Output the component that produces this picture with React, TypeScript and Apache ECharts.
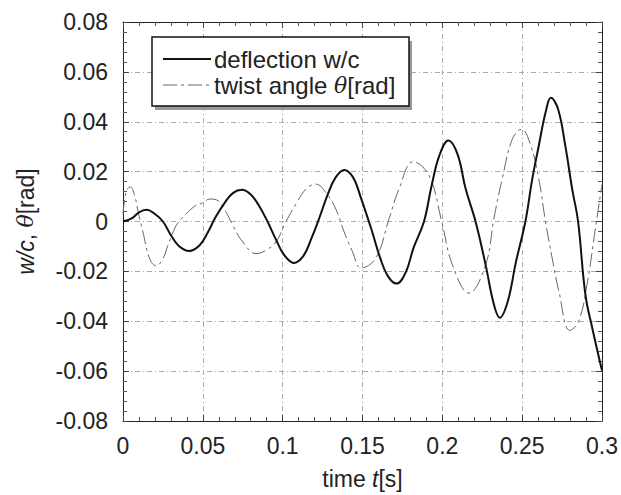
import React, { useEffect, useRef } from "react";
import * as echarts from "echarts";

// time [s] and values
const deflectionT = [0, 0.006, 0.010, 0.0148, 0.019, 0.025, 0.030, 0.035, 0.0415, 0.048, 0.053, 0.058, 0.064, 0.069, 0.0745, 0.080, 0.085, 0.0905, 0.096, 0.101, 0.107, 0.113, 0.118, 0.123, 0.128, 0.133, 0.1385, 0.144, 0.149, 0.156, 0.161, 0.166, 0.1713, 0.177, 0.182, 0.1885, 0.193, 0.198, 0.2038, 0.2095, 0.2146, 0.2208, 0.2271, 0.2323, 0.236, 0.241, 0.246, 0.252, 0.2563, 0.2604, 0.2646, 0.268, 0.2725, 0.277, 0.2813, 0.285, 0.2896, 0.294, 0.300];
const deflectionW = [0, 0.0015, 0.0037, 0.0047, 0.0035, 0, -0.0055, -0.0098, -0.0118, -0.0095, -0.0045, 0.0018, 0.0078, 0.0115, 0.0127, 0.0108, 0.0065, 0, -0.0075, -0.0135, -0.0166, -0.0138, -0.0068, 0.0015, 0.0105, 0.0175, 0.0207, 0.0178, 0.0095, -0.004, -0.0145, -0.022, -0.0249, -0.0205, -0.0105, 0, 0.0135, 0.0262, 0.0325, 0.027, 0.0131, 0, -0.0174, -0.0333, -0.0386, -0.032, -0.0165, 0, 0.017, 0.0304, 0.0436, 0.0496, 0.045, 0.0304, 0.0131, 0, -0.0293, -0.043, -0.0598];

const twistT = [0, 0.0021, 0.0046, 0.0073, 0.0098, 0.0125, 0.0167, 0.0208, 0.025, 0.0281, 0.0333, 0.0375, 0.0448, 0.050, 0.0542, 0.0594, 0.0646, 0.0688, 0.075, 0.0833, 0.0896, 0.0958, 0.1021, 0.1083, 0.1146, 0.1208, 0.127, 0.1333, 0.1385, 0.1438, 0.149, 0.1583, 0.1667, 0.1729, 0.1817, 0.1917, 0.1996, 0.2063, 0.2167, 0.2271, 0.2323, 0.2375, 0.2438, 0.2496, 0.2554, 0.2604, 0.2646, 0.2688, 0.273, 0.2798, 0.2854, 0.2906, 0.2958, 0.300];
const twistTheta = [0.003, 0.0123, 0.0139, 0.0103, 0.003, -0.0042, -0.0149, -0.0178, -0.0149, -0.0096, -0.0016, 0.0017, 0.0061, 0.0075, 0.009, 0.0084, 0.0037, -0.0016, -0.0082, -0.0129, -0.0115, -0.0082, 0, 0.007, 0.013, 0.015, 0.0117, 0.005, -0.0042, -0.0122, -0.0187, -0.0147, 0.0012, 0.0131, 0.024, 0.0184, 0, -0.0174, -0.0287, -0.0174, 0.0012, 0.0171, 0.033, 0.037, 0.0304, 0.0171, 0, -0.0147, -0.028, -0.0437, -0.040, -0.0253, -0.003, 0.015];

const xTicks = { min: 0, max: 0.3, interval: 0.05 };
const yTicks = { min: -0.08, max: 0.08, interval: 0.02 };
const legendLabels = ["deflection w/c", "twist angle "];

const FONT = "'Liberation Sans', Arial, sans-serif";
const FS = 23;
const LFS = 24;

export default function App() {
  const ref = useRef<HTMLDivElement>(null);
  useEffect(() => {
    document.body.style.margin = "0";
    const chart = echarts.init(ref.current!, null, { renderer: "svg" });
    const defl = deflectionT.map((t, i) => [t, deflectionW[i]]);
    const twist = twistT.map((t, i) => [t, twistTheta[i]]);
    const axisCommon = {
      axisLine: { show: true, onZero: false, lineStyle: { color: "#222", width: 1 } },
      axisTick: { show: true, inside: true, length: 6, lineStyle: { color: "#444" } },
      minorTick: { show: true, splitNumber: 5, length: 4, lineStyle: { color: "#555" } },
    };
    const split = { show: true, lineStyle: { color: "#aaa", width: 1, type: [5, 3, 1, 3] } };
    chart.setOption({
      animation: false,
      backgroundColor: "#fff",
      grid: { left: 123, right: 18, top: 22, bottom: 71 },
      xAxis: [
        {
          type: "value", ...xTicks, position: "bottom", ...axisCommon,
          splitLine: split,
          axisLabel: { fontFamily: FONT, fontSize: FS, color: "#222", margin: 13 },
          name: "{n|time }{i|t}{n|[s]}",
          nameLocation: "middle", nameGap: 46,
          nameTextStyle: {
            rich: {
              n: { fontFamily: FONT, fontSize: FS, color: "#222" },
              i: { fontFamily: FONT, fontSize: FS, color: "#222", fontStyle: "italic" },
            },
          },
        },
        {
          type: "value", ...xTicks, position: "top", ...axisCommon,
          splitLine: { show: false }, axisLabel: { show: false },
        },
      ],
      yAxis: [
        {
          type: "value", ...yTicks, position: "left", ...axisCommon,
          splitLine: split,
          axisLabel: { fontFamily: FONT, fontSize: FS, color: "#222", margin: 15 },
          name: "{i|w/c}{n|, }{t|θ}{n|[rad]}",
          nameLocation: "middle", nameGap: 86, nameRotate: 90,
          nameTextStyle: {
            rich: {
              n: { fontFamily: FONT, fontSize: 23, color: "#222" },
              i: { fontFamily: FONT, fontSize: 23, color: "#222", fontStyle: "italic" },
              t: { fontFamily: "'DejaVu Serif', serif", fontSize: 22, color: "#222", fontStyle: "italic" },
            },
          },
        },
        {
          type: "value", ...yTicks, position: "right", ...axisCommon,
          splitLine: { show: false }, axisLabel: { show: false },
        },
      ],
      series: [
        {
          type: "line", data: defl, showSymbol: false, smooth: 0.4,
          lineStyle: { color: "#111", width: 2 }, z: 3,
        },
        {
          type: "line", data: twist, showSymbol: false, smooth: 0.4,
          lineStyle: { color: "#666", width: 1, type: [14, 4, 3, 4] }, z: 2,
        },
      ],
      graphic: [
        { type: "rect", shape: { x: 155, y: 41, width: 257, height: 69 }, style: { fill: "#999" }, z: 10 },
        { type: "rect", shape: { x: 152, y: 37, width: 257, height: 69 }, style: { fill: "#fff", stroke: "#111", lineWidth: 1.5 }, z: 11 },
        { type: "line", shape: { x1: 163, y1: 59, x2: 211, y2: 59 }, style: { stroke: "#111", lineWidth: 2 }, z: 12 },
        { type: "line", shape: { x1: 163, y1: 85, x2: 211, y2: 85 }, style: { stroke: "#666", lineWidth: 1, lineDash: [14, 4, 3, 4] }, z: 12 },
        {
          type: "text", x: 214, y: 59, z: 12,
          style: { text: legendLabels[0], font: `${LFS}px ${FONT}`, fill: "#222", verticalAlign: "middle" },
        },
        {
          type: "text", x: 214, y: 85, z: 12,
          style: {
            text: `{n|${legendLabels[1]}}{t|θ}{n|[rad]}`, verticalAlign: "middle",
            rich: {
              n: { fontFamily: FONT, fontSize: LFS, fill: "#222" },
              t: { fontFamily: "'DejaVu Serif', serif", fontSize: 22, fontStyle: "italic", fill: "#222" },
            },
          },
        },
      ],
    });
    return () => chart.dispose();
  }, []);
  return <div ref={ref} style={{ position: "absolute", left: 0, top: 0, width: 621, height: 495 }} />;
}
